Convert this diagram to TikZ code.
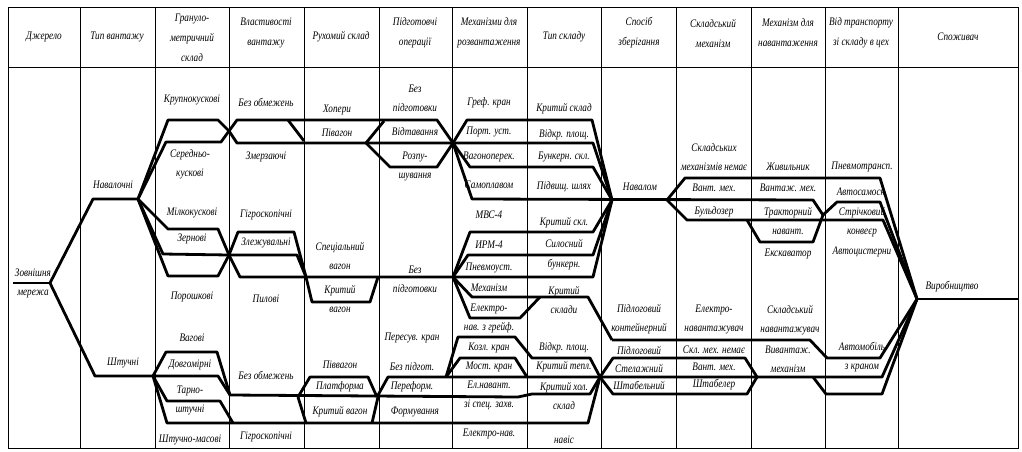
\documentclass[tikz,border=0pt]{standalone}
\usepackage{fontspec}
\setmainfont{Liberation Serif}
\newfontfamily\lblfont[FakeStretch=0.8]{Liberation Serif}
\usepackage{tikz}
\tikzset{
  lbl/.style={font=\lblfont\itshape\fontsize{11.5}{19}\selectfont,inner sep=0pt,align=center},
  hdr/.style={lbl,font=\lblfont\itshape\fontsize{11.5}{20}\selectfont},
  grid/.style={draw=black,line width=.7pt},
  trk/.style={draw=black,line width=2.8pt,line join=round}
}
\newcommand{\lab}[3]{\node[lbl] (#1) at (#2) {#3};}
\newcommand{\hlab}[3]{\node[hdr] (#1) at (#2) {#3};}

\begin{document}
\begin{tikzpicture}[x=1pt,y=-1pt]
  \useasboundingbox (0,0) rectangle (1022,451);
  % table
  \draw[grid] (8,7) rectangle (1018,448);
  \draw[grid] (8,67) -- (1018,67);
  \foreach \cx in {80,155,229,304,379,452,527,601,676,751,825,898}
    {\draw[grid] (\cx,7) -- (\cx,448);}

  % headers
  \hlab{h1}{44,37}{Джерело}
  \hlab{h2}{117,37}{Тип вантажу}
  \hlab{h3}{192,38}{Грануло-\\метричний\\склад}
  \hlab{h4}{266,33}{Властивості\\вантажу}
  \hlab{h5}{341,37}{Рухомий склад}
  \hlab{h6}{415,33}{Підготовчі\\операції}
  \hlab{h7}{489,33}{Механізми для\\розвантаження}
  \hlab{h8}{564,37}{Тип складу}
  \hlab{h9}{639,33}{Спосіб\\зберігання}
  \hlab{h10}{713,33}{Складський\\механізм}
  \hlab{h11}{788,33}{Механізм для\\навантаження}
  \hlab{h12}{861,33}{Від транспорту\\зі складу в цех}
  \hlab{h13}{958,37}{Споживач}

  % labels
  \lab{src}{33,283}{Зовнішня\\мережа}
  \lab{bulk}{113,185}{Навалочні}
  \lab{piece}{123,363}{Штучні}
  \lab{g1}{192,100}{Крупнокускові}
  \lab{g2}{190,164}{Середньо-\\кускові}
  \lab{g3}{192,213}{Мілкокускові}
  \lab{g4}{192,239}{Зернові}
  \lab{g5}{192,297}{Порошкові}
  \lab{g6}{192,338}{Вагові}
  \lab{g7}{190,365}{Довгомірні}
  \lab{g8}{190,400}{Тарно-\\штучні}
  \lab{g9}{190,440}{Штучно-масові}
  \lab{p1}{266,102}{Без обмежень}
  \lab{p2}{266,157}{Змерзаючі}
  \lab{p3}{266,215}{Гігроскопічні}
  \lab{p4}{266,243}{Злежувальні}
  \lab{p5}{266,299}{Пилові}
  \lab{p6}{266,375}{Без обмежень}
  \lab{p7}{266,437}{Гігроскопічні}
  \lab{r1}{337,110}{Хопери}
  \lab{r2}{337,133}{Півагон}
  \lab{r3}{340,256}{Спеціальний\\вагон}
  \lab{r4}{340,299}{Критий\\вагон}
  \lab{r5}{340,365}{Піввагон}
  \lab{r6}{340,387}{Платформа}
  \lab{r7}{340,412}{Критий вагон}
  \lab{o1}{415,98}{Без\\підготовки}
  \lab{o2}{415,132}{Відтавання}
  \lab{o3}{415,166}{Розпу-\\шування}
  \lab{o4}{415,279}{Без\\підготовки}
  \lab{o5}{412,338}{Пересув. кран}
  \lab{o6}{412,367}{Без підгот.}
  \lab{o7}{412,387}{Переформ.}
  \lab{o8}{415,412}{Формування}
  \lab{m1}{489,103}{Греф. кран}
  \lab{m2}{489,132}{Порт. уст.}
  \lab{m3}{489,157}{Вагоноперек.}
  \lab{m4}{489,185}{Самоплавом}
  \lab{m5}{489,215}{МВС-4}
  \lab{m6}{489,245}{ИРМ-4}
  \lab{m7}{489,268}{Пневмоуст.}
  \lab{m8}{489,288}{Механізм}
  \lab{m9}{489,318}{Електро-\\нав. з грейф.}
  \lab{m10}{489,348}{Козл. кран}
  \lab{m11}{489,367}{Мост. кран}
  \lab{m12}{489,385}{Ел.навант.}
  \lab{m13}{489,405}{зі спец. захв.}
  \lab{m14}{489,434}{Електро-нав.}
  \lab{s1}{564,109}{Критий склад}
  \lab{s2}{564,135}{Відкр. площ.}
  \lab{s3}{564,157}{Бункерн. скл.}
  \lab{s4}{564,187}{Підвищ. шлях}
  \lab{s5}{564,223}{Критий скл.}
  \lab{s6}{564,243}{Силосний}
  \lab{s7}{564,265}{бункерн.}
  \lab{s8}{564,300}{Критий\\склади}
  \lab{s9}{564,348}{Відкр. площ.}
  \lab{s10}{564,367}{Критий тепл.}
  \lab{s11}{564,396}{Критий хол.\\склад}
  \lab{s12}{564,440}{навіс}
  \lab{k1}{640,187}{Навалом}
  \lab{k2}{639,319}{Підлоговий\\контейнерний}
  \lab{k3}{639,350}{Підлоговий}
  \lab{k4}{639,368}{Стелажний}
  \lab{k5}{639,385}{Штабельний}
  \lab{c1}{714,157}{Складських\\механізмів немає}
  \lab{c2}{714,188}{Вант. мех.}
  \lab{c3}{714,212}{Бульдозер}
  \lab{c4}{714,319}{Електро-\\навантажувач}
  \lab{c5}{714,350}{Скл. мех. немає}
  \lab{c6}{714,367}{Вант. мех.}
  \lab{c7}{714,385}{Штабелер}
  \lab{l1}{788,167}{Живильник}
  \lab{l2}{788,188}{Вантаж. мех.}
  \lab{l3}{788,221}{Тракторний\\навант.}
  \lab{l4}{788,254}{Екскаватор}
  \lab{l5}{790,320}{Складський\\навантажувач}
  \lab{l6}{788,359}{Вивантаж.\\механізм}
  \lab{t1}{862,167}{Пневмотрансп.}
  \lab{t2}{862,192}{Автосамоск.}
  \lab{t3}{862,222}{Стрічковий\\конвеєр}
  \lab{t4}{862,252}{Автоцистерни}
  \lab{t5}{862,357}{Автомобіль\\з краном}
  \lab{u1}{952,287}{Виробництво}

  % junctions
  \coordinate (js) at (50,283);
  \coordinate (jn) at (138,199);
  \coordinate (jp) at (153,376);
  \coordinate (xa) at (229,131);
  \coordinate (xb) at (229,255);
  \coordinate (xc) at (230,395);
  \coordinate (xd) at (306,277);
  \coordinate (ja) at (453,143);
  \coordinate (jb) at (453,277);
  \coordinate (jc) at (446,377);
  \coordinate (nvl) at (612,200);
  \coordinate (nvr) at (667,200);
  \coordinate (pk) at (612,340);
  \coordinate (jd) at (600,377);
  \coordinate (vv) at (823,215);
  \coordinate (prod) at (917,299);

  % source and cargo type
  \draw[trk] (13,283) -- (js);
  \draw[trk] (js) -- (93,199) -- (jn);
  \draw[trk] (js) -- (95,376) -- (jp);
  % granulometry
  \draw[trk] (jn) -- (168,120) -- (218,120) -- (xa);
  \draw[trk] (jn) -- (166,142) -- (221,142) -- (xa);
  \draw[trk] (jn) -- (168,229) -- (218,229) -- (xb);
  \draw[trk] (jn) -- (163,254) -- (xb);
  \draw[trk] (jn) -- (168,276) -- (218,276) -- (xb);
  \draw[trk] (jp) -- (166,352) -- (217,352) -- (xc);
  \draw[trk] (jp) -- (218,376) -- (xc);
  \draw[trk] (jp) -- (167,401) -- (220,401) -- (233,423);
  \draw[trk] (jp) -- (167,423) -- (588,423) -- (jd);
  % upper bulk routes
  \draw[trk] (xa) -- (237,120) -- (437,120) -- (ja);
  \draw[trk] (xa) -- (237,143) -- (593,143) -- (nvl);
  \draw[trk] (288,120) -- (304,141);
  \draw[trk] (366,143) -- (384,121);
  \draw[trk] (366,143) -- (390,167) -- (437,167) -- (ja);
  \draw[trk] (ja) -- (467,120) -- (592,120) -- (nvl);
  \draw[trk] (ja) -- (470,167) -- (593,167) -- (nvl);
  \draw[trk] (ja) -- (472,199) -- (813,200) -- (vv);
  % middle bulk routes
  \draw[trk] (xb) -- (238,232) -- (294,232) -- (xd);
  \draw[trk] (xb) -- (297,255) -- (xd);
  \draw[trk] (xb) -- (240,277) -- (593,277) -- (nvl);
  \draw[trk] (xd) -- (312,302) -- (370,302) -- (378,277);
  \draw[trk] (jb) -- (470,232) -- (593,232) -- (nvl);
  \draw[trk] (jb) -- (468,255) -- (593,255) -- (nvl);
  \draw[trk] (jb) -- (472,297) -- (588,297) -- (pk);
  \draw[trk] (jb) -- (470,318) -- (520,318) -- (540,297);
  % piece cargo routes
  \draw[trk] (xc) -- (518,397) -- (532,394) -- (590,394) -- (jd);
  \draw[trk] (298,397) -- (310,377) -- (368,377) -- (377,397);
  \draw[trk] (298,397) -- (306,423);
  \draw[trk] (372,423) -- (378,397);
  \draw[trk] (377,397) -- (388,377) -- (882,377) -- (prod);
  \draw[trk] (jc) -- (458,337) -- (515,337) -- (532,358) -- (590,358) -- (jd);
  \draw[trk] (jc) -- (460,358) -- (515,358) -- (527,377);
  \draw[trk] (jd) -- (613,358) -- (745,358) -- (757,377);
  \draw[trk] (jd) -- (613,394) -- (747,394) -- (757,377);
  \draw[trk] (pk) -- (810,340) -- (827,358) -- (880,358) -- (prod);
  \draw[trk] (813,377) -- (826,394) -- (882,394) -- (prod);
  % to production
  \draw[trk] (nvr) -- (685,178) -- (880,178) -- (prod);
  \draw[trk] (nvr) -- (687,220) -- (883,220) -- (prod);
  \draw[trk] (747,220) -- (760,242) -- (813,242) -- (vv);
  \draw[trk] (vv) -- (837,202) -- (880,202) -- (prod);
  \draw[trk] (prod) -- (1018,299);
\end{tikzpicture}
\end{document}
